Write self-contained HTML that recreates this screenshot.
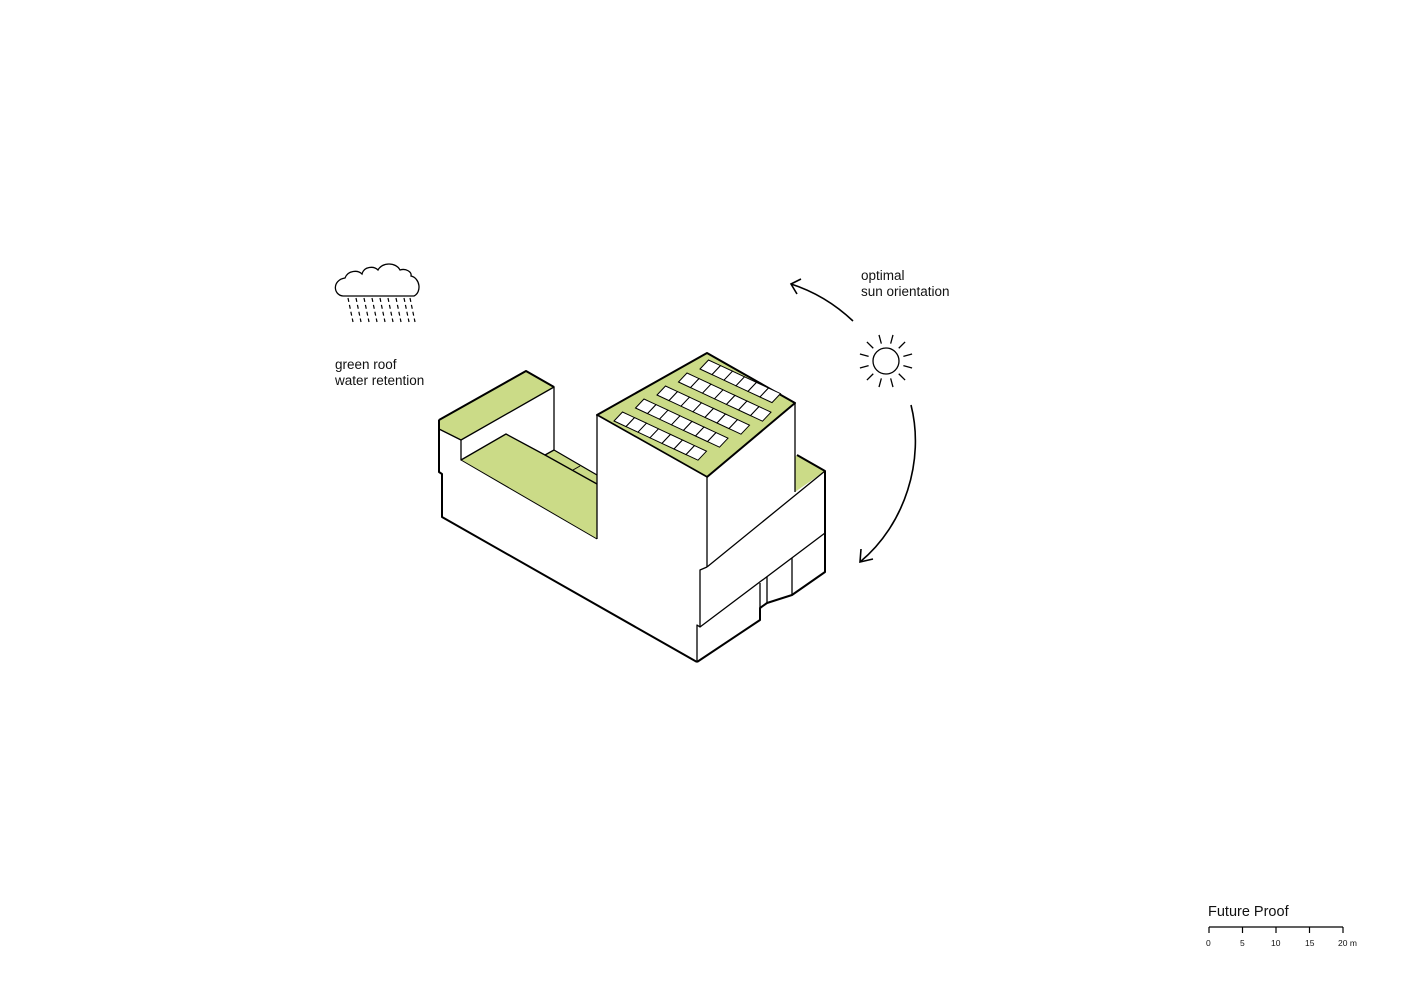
<!DOCTYPE html>
<html><head><meta charset="utf-8"><style>
html,body{margin:0;padding:0;background:#fff;}
svg{display:block}
text{font-family:"Liberation Sans",sans-serif;font-size:13.5px;fill:#111}
</style></head><body>
<svg width="1414" height="1000" viewBox="0 0 1414 1000" xmlns="http://www.w3.org/2000/svg">
<g stroke="#000" stroke-linejoin="round" stroke-width="1.3">
<polygon points="439,420 526,371 554,387 554,450 597,475 597,539 697,597 697,662 442,517 442,474 439,472" fill="#fff" stroke="none"/>
<polygon points="439,420 526,371 554,387 461,440 439,429" fill="#cbdb87"/>
<polygon points="461,460 506,434 545,455 554,450 597,475 597,539" fill="#cbdb87" stroke="none"/>
<polyline points="461,440 461,460 506,434 545,455 554,450" fill="none"/>
<polyline points="554,450 597,475" fill="none"/>
<polyline points="545,455 597,484" fill="none"/>
<line x1="573" y1="470" x2="580" y2="466" stroke-width="1"/>
<line x1="461" y1="460" x2="597" y2="539" stroke-width="1"/>
<line x1="554" y1="387" x2="554" y2="450"/>
<polyline points="439,420 439,472 442,474 442,517 697,662" fill="none" stroke-width="2"/>
<polyline points="439,420 526,371 554,387" fill="none" stroke-width="2"/>
<polygon points="707,477 795,403 795,457 797,455 825,471 825,572 792,595 767,603 760,608 760,620 697,662 697,625 700,627 700,570 707,567" fill="#fff" stroke="none"/>
<polygon points="795,403 795,492 825,471 797,455 795,457" fill="#cbdb87" stroke="none"/>
<polygon points="597,415 707,353 795,403 707,477" fill="#cbdb87" stroke-width="2"/>
<polygon points="597,415 707,477 707,567 597,539" fill="#fff" stroke="none"/>
<line x1="597" y1="415" x2="707" y2="477"/>
<line x1="795" y1="403" x2="795" y2="492"/>
<polyline points="797,455 825,471 825,572 792,595 767,603 760,608 760,620 697,662" fill="none" stroke-width="2"/>
<line x1="825" y1="471" x2="707" y2="567"/>
<line x1="707" y1="477" x2="707" y2="567"/>
<line x1="597" y1="415" x2="597" y2="539"/>
<polyline points="707,567 700,570 700,627 697,625 697,662" fill="none"/>
<line x1="825" y1="533" x2="700" y2="627"/>
<line x1="760" y1="583" x2="760" y2="608"/>
<line x1="767" y1="577" x2="767" y2="603"/>
<line x1="792" y1="558" x2="792" y2="595"/>
</g>
<g fill="#fff" stroke="#000" stroke-width="1">
<g transform="matrix(12,5.6,8.5,-9,614,421)">
<rect x="0" y="0" width="1" height="1" vector-effect="non-scaling-stroke"/><rect x="1" y="0" width="1" height="1" vector-effect="non-scaling-stroke"/><rect x="2" y="0" width="1" height="1" vector-effect="non-scaling-stroke"/><rect x="3" y="0" width="1" height="1" vector-effect="non-scaling-stroke"/><rect x="4" y="0" width="1" height="1" vector-effect="non-scaling-stroke"/><rect x="5" y="0" width="1" height="1" vector-effect="non-scaling-stroke"/><rect x="6" y="0" width="1" height="1" vector-effect="non-scaling-stroke"/></g>
<g transform="matrix(12,5.6,8.5,-9,635.5,408)">
<rect x="0" y="0" width="1" height="1" vector-effect="non-scaling-stroke"/><rect x="1" y="0" width="1" height="1" vector-effect="non-scaling-stroke"/><rect x="2" y="0" width="1" height="1" vector-effect="non-scaling-stroke"/><rect x="3" y="0" width="1" height="1" vector-effect="non-scaling-stroke"/><rect x="4" y="0" width="1" height="1" vector-effect="non-scaling-stroke"/><rect x="5" y="0" width="1" height="1" vector-effect="non-scaling-stroke"/><rect x="6" y="0" width="1" height="1" vector-effect="non-scaling-stroke"/></g>
<g transform="matrix(12,5.6,8.5,-9,657,395)">
<rect x="0" y="0" width="1" height="1" vector-effect="non-scaling-stroke"/><rect x="1" y="0" width="1" height="1" vector-effect="non-scaling-stroke"/><rect x="2" y="0" width="1" height="1" vector-effect="non-scaling-stroke"/><rect x="3" y="0" width="1" height="1" vector-effect="non-scaling-stroke"/><rect x="4" y="0" width="1" height="1" vector-effect="non-scaling-stroke"/><rect x="5" y="0" width="1" height="1" vector-effect="non-scaling-stroke"/><rect x="6" y="0" width="1" height="1" vector-effect="non-scaling-stroke"/></g>
<g transform="matrix(12,5.6,8.5,-9,678.5,382)">
<rect x="0" y="0" width="1" height="1" vector-effect="non-scaling-stroke"/><rect x="1" y="0" width="1" height="1" vector-effect="non-scaling-stroke"/><rect x="2" y="0" width="1" height="1" vector-effect="non-scaling-stroke"/><rect x="3" y="0" width="1" height="1" vector-effect="non-scaling-stroke"/><rect x="4" y="0" width="1" height="1" vector-effect="non-scaling-stroke"/><rect x="5" y="0" width="1" height="1" vector-effect="non-scaling-stroke"/><rect x="6" y="0" width="1" height="1" vector-effect="non-scaling-stroke"/></g>
<g transform="matrix(12,5.6,8.5,-9,700,369)">
<rect x="0" y="0" width="1" height="1" vector-effect="non-scaling-stroke"/><rect x="1" y="0" width="1" height="1" vector-effect="non-scaling-stroke"/><rect x="2" y="0" width="1" height="1" vector-effect="non-scaling-stroke"/><rect x="3" y="0" width="1" height="1" vector-effect="non-scaling-stroke"/><rect x="4" y="0" width="1" height="1" vector-effect="non-scaling-stroke"/><rect x="5" y="0" width="1" height="1" vector-effect="non-scaling-stroke"/></g>
</g>
<g fill="#fff" stroke="#000" stroke-width="1.3">
<path d="M343,296 C333,295 332,280 345,278 C348,270 358,270 362,274 C364,266 374,266 378,270 C382,262 396,262 400,270 C406,268 412,272 411,276 C420,278 422,292 414,296 Z"/>
</g>
<g stroke="#000" stroke-width="1.2">
<line x1="348" y1="298" x2="353" y2="322" stroke-dasharray="4,3"/>
<line x1="356" y1="298" x2="361" y2="322" stroke-dasharray="4,3"/>
<line x1="364" y1="298" x2="369" y2="322" stroke-dasharray="4,3"/>
<line x1="372" y1="298" x2="377" y2="322" stroke-dasharray="4,3"/>
<line x1="380" y1="298" x2="385" y2="322" stroke-dasharray="4,3"/>
<line x1="388" y1="298" x2="393" y2="322" stroke-dasharray="4,3"/>
<line x1="396" y1="298" x2="401" y2="322" stroke-dasharray="4,3"/>
<line x1="404" y1="298" x2="409" y2="322" stroke-dasharray="4,3"/>
<line x1="410" y1="298" x2="415" y2="322" stroke-dasharray="4,3"/>
</g>
<g stroke="#000" stroke-width="1.3" fill="none">
<circle cx="886" cy="361" r="13"/>
<g transform="translate(886,361)">
<line x1="0" y1="-18" x2="0" y2="-27" transform="rotate(15)"/>
<line x1="0" y1="-18" x2="0" y2="-27" transform="rotate(-15)"/>
<line x1="0" y1="-18" x2="0" y2="-27" transform="rotate(45)"/>
<line x1="0" y1="-18" x2="0" y2="-27" transform="rotate(-45)"/>
<line x1="0" y1="-18" x2="0" y2="-27" transform="rotate(75)"/>
<line x1="0" y1="-18" x2="0" y2="-27" transform="rotate(-75)"/>
<line x1="0" y1="-18" x2="0" y2="-27" transform="rotate(105)"/>
<line x1="0" y1="-18" x2="0" y2="-27" transform="rotate(-105)"/>
<line x1="0" y1="-18" x2="0" y2="-27" transform="rotate(135)"/>
<line x1="0" y1="-18" x2="0" y2="-27" transform="rotate(-135)"/>
<line x1="0" y1="-18" x2="0" y2="-27" transform="rotate(165)"/>
<line x1="0" y1="-18" x2="0" y2="-27" transform="rotate(-165)"/>
</g>
<path d="M853,321 C836,305 816,292 791,284" stroke-width="1.6"/>
<polyline points="801,279 791,284 797,294" stroke-width="1.6"/>
<path d="M911,405 C925,460 905,525 860,562" stroke-width="1.6"/>
<polyline points="861,549 860,562 873,559" stroke-width="1.6"/>
</g>
<text x="861" y="280">optimal</text>
<text x="861" y="296">sun orientation</text>
<text x="335" y="369">green roof</text>
<text x="335" y="385">water retention</text>
<text x="1208" y="916" style="font-size:14.5px">Future Proof</text>
<g stroke="#000" stroke-width="1.2">
<line x1="1209" y1="927" x2="1343" y2="927"/>
<line x1="1209" y1="927" x2="1209" y2="933"/>
<line x1="1242.5" y1="927" x2="1242.5" y2="933"/>
<line x1="1276" y1="927" x2="1276" y2="933"/>
<line x1="1309.5" y1="927" x2="1309.5" y2="933"/>
<line x1="1343" y1="927" x2="1343" y2="933"/>
</g>
<text x="1206" y="946" style="font-size:8.5px">0</text>
<text x="1240" y="946" style="font-size:8.5px">5</text>
<text x="1271" y="946" style="font-size:8.5px">10</text>
<text x="1305" y="946" style="font-size:8.5px">15</text>
<text x="1338" y="946" style="font-size:8.5px">20 m</text>
</svg>
</body></html>
